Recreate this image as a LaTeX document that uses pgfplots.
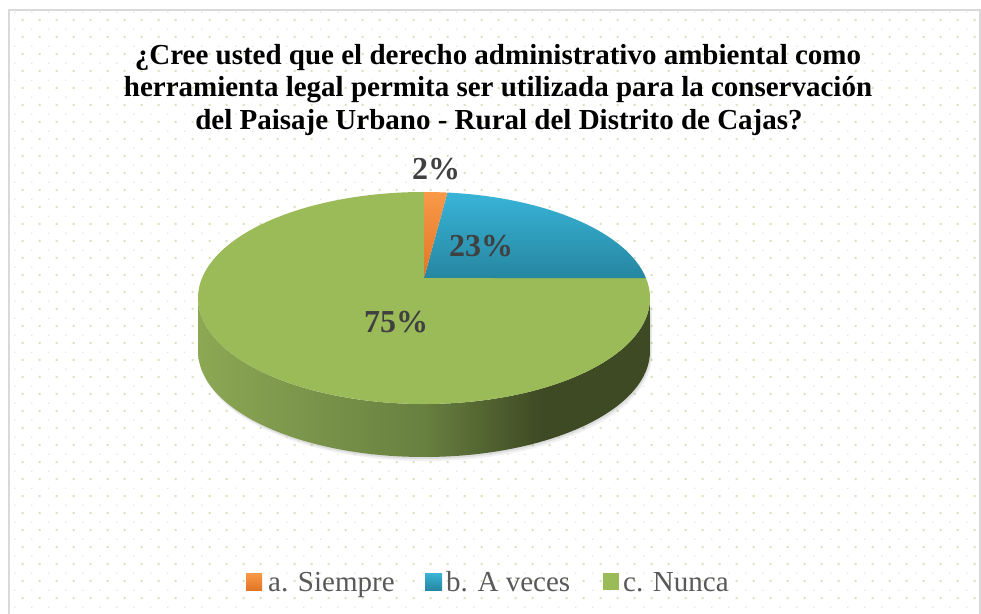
\documentclass[border=0pt]{standalone}
\usepackage{pgfplots}
\pgfplotsset{compat=1.18}
\usepackage{pgfplotstable}
\usepackage{fontspec}
\setmainfont{Liberation Serif}
\definecolor{dotc}{RGB}{214,227,188}
\definecolor{framec}{RGB}{217,217,217}
\definecolor{orA}{RGB}{249,153,72}
\definecolor{orB}{RGB}{224,118,38}
\definecolor{blA}{RGB}{56,180,216}
\definecolor{blB}{RGB}{38,134,160}
\definecolor{grT}{RGB}{155,187,89}
\definecolor{wallL}{RGB}{140,168,84}
\definecolor{wallM}{RGB}{104,128,64}
\definecolor{wallD}{RGB}{62,74,35}
\definecolor{lbl}{RGB}{64,64,64}
\definecolor{legc}{RGB}{89,89,89}
\pgfdeclarehorizontalshading{wallshade}{100bp}{color(0bp)=(wallL); color(25bp)=(wallL); color(50bp)=(wallM); color(63bp)=(wallD); color(75bp)=(wallD); color(100bp)=(wallD)}

\pgfplotstableread{
label pct
Siempre 2
Aveces 23
Nunca 75
}\piedata

% perspective mapping of a cumulative percentage to the ellipse parameter angle
\newcommand\pieangle[2]{%
  \pgfmathsetmacro\th{3.6*(#1)}%
  \pgfmathsetmacro\ss{sin(\th)}%
  \pgfmathsetmacro\cc{cos(\th)}%
  \pgfmathsetmacro\dd{1+0.1887*\cc}%
  \pgfmathsetmacro\yy{(278-49.77*\cc)/\dd}%
  \pgfmathsetmacro\xx{222*\ss/\dd}%
  \pgfmathsetmacro#2{atan2((298-\yy)/106,\xx/226)}%
}

\begin{document}
\begin{tikzpicture}
\useasboundingbox (0,0) rectangle (981pt,613pt);
\fill[white] (0,0) rectangle (981pt,613pt);
% dotted background
\fill[dotc] \foreach \i in {0,...,56} {\foreach \j in {0,...,34} {({21.7pt+17pt*\i},{592pt-17pt*\j}) rectangle ++(2pt,2pt)}};
\fill[dotc!70] \foreach \i in {0,...,56} {\foreach \j in {0,...,35} {({14.2pt+17pt*\i},{600.2pt-17pt*\j}) rectangle ++(1.2pt,1.2pt)}};
\draw[framec,line width=1.2pt] (9pt,-2pt) -- (9pt,603pt) -- (980pt,603pt) -- (980pt,-2pt);

\pgfplotstablegetelem{0}{pct}\of\piedata \let\pa\pgfplotsretval
\pgfplotstablegetelem{1}{pct}\of\piedata \let\pb\pgfplotsretval
\pgfplotstablegetelem{2}{pct}\of\piedata \let\pc\pgfplotsretval
\pieangle{0}{\tA}
\pieangle{\pa}{\tB}
\pieangle{\pa+\pb}{\tC}
\pgfmathsetmacro\tE{\tA-360}

% title
\begin{scope}[every node/.style={inner sep=0pt,anchor=base,font=\fontsize{29}{31}\selectfont\bfseries}]
\node at (498pt,548.5pt) {¿Cree usted que el derecho administrativo ambiental como};
\node at (498pt,516pt) {herramienta legal permita ser utilizada para la conservación};
\node at (499pt,483pt) {del Paisaje Urbano - Rural del Distrito de Cajas?};
\end{scope}

\begin{axis}[x=1pt,y=1pt,xmin=0,xmax=981,ymin=0,ymax=613,hide axis,clip=false,
  at={(0,0)},anchor=origin]
% shadow
\fill[black,opacity=0.06] (axis cs:200,311) arc[start angle=180,end angle=360,x radius=226,y radius=106] -- (axis cs:652,258) arc[start angle=0,end angle=-180,x radius=226,y radius=106] -- cycle;
\fill[black,opacity=0.08] (axis cs:199,313) arc[start angle=180,end angle=360,x radius=226,y radius=106] -- (axis cs:651,260) arc[start angle=0,end angle=-180,x radius=226,y radius=106] -- cycle;
% side wall
\shade[shading=wallshade] (axis cs:198,315) arc[start angle=180,end angle=360,x radius=226,y radius=106] -- (axis cs:650,262) arc[start angle=0,end angle=-180,x radius=226,y radius=106] -- cycle;
% top faces
\fill[grT] (axis cs:424,335) -- (axis cs:{424+226*cos(\tC)},{315+106*sin(\tC)}) arc[start angle=\tC,end angle=\tE,x radius=226,y radius=106] -- cycle;
\shade[top color=blA,bottom color=blB] (axis cs:424,335) -- (axis cs:{424+226*cos(\tB)},{315+106*sin(\tB)}) arc[start angle=\tB,end angle=\tC,x radius=226,y radius=106] -- cycle;
\shade[top color=orA,bottom color=orB] (axis cs:424,335) -- (axis cs:{424+226*cos(\tA)},{315+106*sin(\tA)}) arc[start angle=\tA,end angle=\tB,x radius=226,y radius=106] -- cycle;
% data labels
\begin{scope}[every node/.style={inner sep=0pt,text=lbl,font=\fontsize{32}{32}\selectfont\bfseries}]
\node at (axis cs:436,444) {\pa\%};
\node at (axis cs:481,367) {\pb\%};
\node at (axis cs:396,291) {\pc\%};
\end{scope}
% legend
\shade[top color=orA,bottom color=orB] (axis cs:246,23) rectangle (axis cs:262,40);
\shade[top color=blA,bottom color=blB] (axis cs:425,23) rectangle (axis cs:442,40);
\fill[grT] (axis cs:603,23) rectangle (axis cs:619,40);
\begin{scope}[every node/.style={inner sep=0pt,anchor=base west,text=legc,font=\fontsize{29}{29}\selectfont}]
\node at (axis cs:268,22) {a. Siempre};
\node at (axis cs:446,22) {b. A veces};
\node at (axis cs:623,22) {c. Nunca};
\end{scope}
\end{axis}
\end{tikzpicture}
\end{document}
